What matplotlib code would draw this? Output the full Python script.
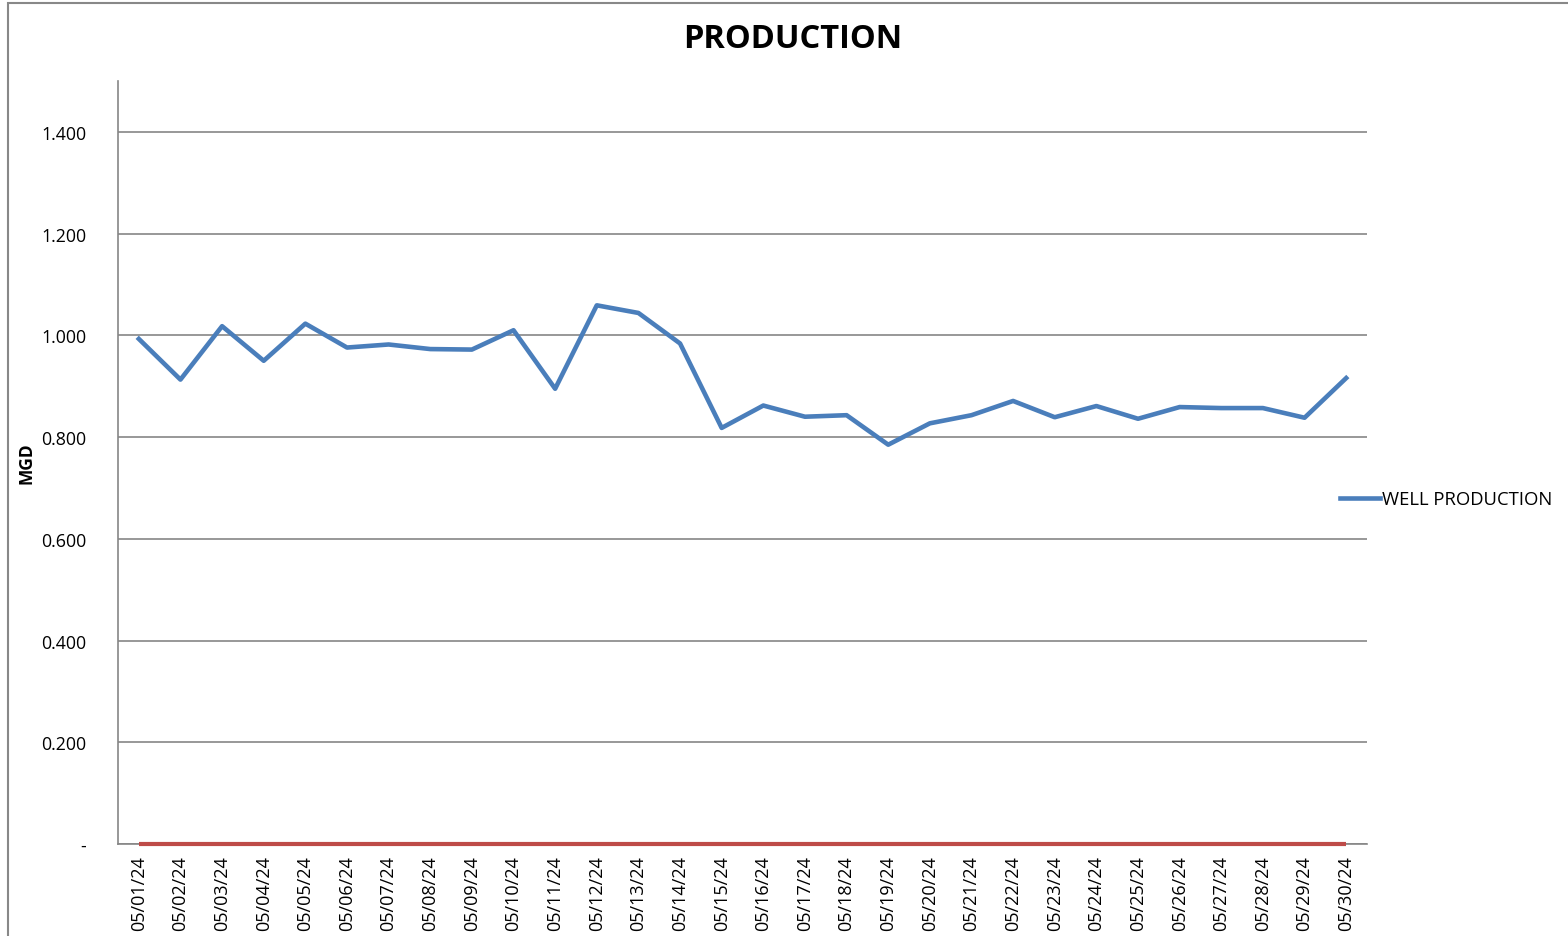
import matplotlib.pyplot as plt
from matplotlib.patches import Rectangle

plt.rcParams['font.family'] = ['Open Sans', 'DejaVu Sans']

dates = ['05/01/24', '05/02/24', '05/03/24', '05/04/24', '05/05/24', '05/06/24',
         '05/07/24', '05/08/24', '05/09/24', '05/10/24', '05/11/24', '05/12/24',
         '05/13/24', '05/14/24', '05/15/24', '05/16/24', '05/17/24', '05/18/24',
         '05/19/24', '05/20/24', '05/21/24', '05/22/24', '05/23/24', '05/24/24',
         '05/25/24', '05/26/24', '05/27/24', '05/28/24', '05/29/24', '05/30/24']
well_production = [0.993, 0.913, 1.018, 0.950, 1.023, 0.976, 0.982, 0.973, 0.972, 1.010,
                   0.895, 1.059, 1.044, 0.984, 0.818, 0.862, 0.840, 0.843, 0.785, 0.827,
                   0.843, 0.871, 0.839, 0.861, 0.836, 0.859, 0.857, 0.857, 0.838, 0.916]
other_series = [0.0] * len(dates)  # flat red series along the bottom
y_ticks = [0, 0.2, 0.4, 0.6, 0.8, 1.0, 1.2, 1.4]

W, H = 1568, 937
fig = plt.figure(figsize=(W / 100, H / 100), dpi=100)
ax = fig.add_axes([118 / W, 1 - 845 / H, (1367 - 118) / W, (845 - 82) / H])

x = range(len(dates))
ax.plot(x, other_series, color='#BE4B48', lw=3, solid_capstyle='butt', zorder=5,
        clip_on=False)
ax.plot(x, well_production, color='#4A7EBB', lw=3.3, label='WELL PRODUCTION', zorder=4)

ax.set_xlim(-0.5, len(dates) - 0.5)
ax.set_ylim(0, 1.5)
ax.set_yticks(y_ticks)
ax.set_yticklabels(['-' if v == 0 else '%.3f' % v for v in y_ticks], fontsize=12.8)
ax.set_xticks(list(x))
ax.set_xticklabels(dates, rotation=90, fontsize=13)
ax.tick_params(axis='both', length=0)
ax.tick_params(axis='y', pad=23)
ax.tick_params(axis='x', pad=8)
ax.yaxis.grid(True, color='#868686', lw=1.2)
ax.set_axisbelow(True)
for s in ['top', 'right']:
    ax.spines[s].set_visible(False)
for s in ['left', 'bottom']:
    ax.spines[s].set_color('#868686')
    ax.spines[s].set_linewidth(1.2)

fig.text(793 / W, 1 - 40 / H, 'PRODUCTION', ha='center', va='center',
         fontsize=23.5, fontweight='bold')
fig.text(27 / W, 1 - 463 / H, 'MGD', ha='center', va='center', rotation=90,
         fontsize=12.5, fontweight='bold')

fig.legend(loc='center left', bbox_to_anchor=(1323 / W, 1 - 500 / H), frameon=False,
           fontsize=13.3, handlelength=2.2, handletextpad=0.1)

# outer chart border
fig.patches.append(Rectangle((8 / W, -0.05), 1.1, 1 - 4 / H + 0.05, transform=fig.transFigure,
                             fill=False, edgecolor='#888888', lw=1.5))

fig.savefig('out.png', dpi=100)
